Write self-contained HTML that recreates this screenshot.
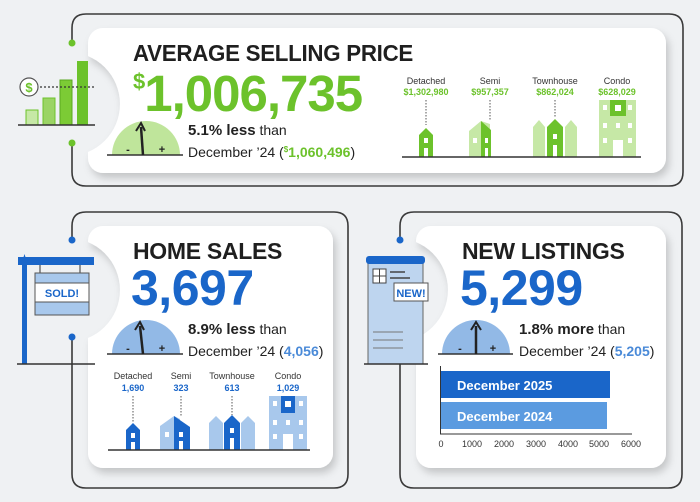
<!DOCTYPE html>
<html><head><meta charset="utf-8"><style>
html,body{margin:0;padding:0;background:#eff1f3;}
svg{display:block;font-family:"Liberation Sans",sans-serif;}
.t{font-weight:bold;fill:#1f1f1f;font-size:23px;letter-spacing:-0.3px}
.s{font-size:14px;fill:#222}
.sm{font-size:9px;fill:#333}
</style></head><body>
<svg width="700" height="502" viewBox="0 0 700 502" xmlns="http://www.w3.org/2000/svg">
<defs>
<filter id="sh" x="-10%" y="-10%" width="130%" height="130%"><feDropShadow dx="3" dy="5" stdDeviation="4" flood-color="#000" flood-opacity="0.18"/></filter>
<mask id="m1"><rect width="700" height="502" fill="#fff"/><circle cx="68" cy="104" r="52" fill="#000"/></mask>
<mask id="m2"><rect width="700" height="502" fill="#fff"/><circle cx="68" cy="290" r="52" fill="#000"/><circle cx="396" cy="290" r="52" fill="#000"/></mask>
</defs>
<rect width="700" height="502" fill="#eff1f3"/>
<path d="M72,43 V28 Q72,14 86,14 H669 Q683,14 683,28 V172 Q683,186 669,186 H86 Q72,186 72,172 V143" fill="none" stroke="#3a3a3a" stroke-width="1.6"/>
<path d="M72,240 V226 Q72,212 86,212 H334 Q348,212 348,226 V474 Q348,488 334,488 H86 Q72,488 72,474 V337" fill="none" stroke="#3a3a3a" stroke-width="1.6"/>
<path d="M400,240 V226 Q400,212 414,212 H668 Q682,212 682,226 V474 Q682,488 668,488 H414 Q400,488 400,474 V337" fill="none" stroke="#3a3a3a" stroke-width="1.6"/>
<g filter="url(#sh)">
<rect x="88" y="28" width="578" height="145" rx="15" fill="#fff" mask="url(#m1)"/>
<rect x="88" y="226" width="245" height="242" rx="15" fill="#fff" mask="url(#m2)"/>
<rect x="416" y="226" width="250" height="242" rx="15" fill="#fff" mask="url(#m2)"/>
</g>
<circle cx="72" cy="43" r="3.5" fill="#6cc22b"/><circle cx="72" cy="143" r="3.5" fill="#6cc22b"/>
<circle cx="72" cy="240" r="3.5" fill="#1a66c9"/><circle cx="72" cy="337" r="3.5" fill="#1a66c9"/>
<circle cx="400" cy="240" r="3.5" fill="#1a66c9"/><circle cx="400" cy="337" r="3.5" fill="#1a66c9"/>

<rect x="26" y="110" width="12" height="15" fill="#c6e8a6" stroke="#6cc22b"/>
<rect x="43" y="98" width="12" height="27" fill="#9bd465" stroke="#6cc22b"/>
<rect x="60" y="80" width="12" height="45" fill="#7ccb35" stroke="#5aa820"/>
<rect x="77" y="61" width="11" height="64" fill="#6cc22b"/>
<line x1="18" y1="125" x2="95" y2="125" stroke="#333" stroke-width="1.5"/>
<line x1="40" y1="87" x2="95" y2="87" stroke="#333" stroke-width="1.3" stroke-dasharray="2,2"/>
<circle cx="29" cy="87" r="9" fill="#fff" stroke="#555" stroke-width="1.2"/>
<text x="29" y="92" font-size="13" font-weight="bold" fill="#6cc22b" text-anchor="middle">$</text>

<text x="133" y="61" class="t" textLength="280" lengthAdjust="spacingAndGlyphs">AVERAGE SELLING PRICE</text>
<text x="133" y="111" font-size="51" font-weight="bold" fill="#6cc22b" letter-spacing="-1"><tspan font-size="22" dy="-22">$</tspan><tspan dy="22">1,006,735</tspan></text>
<path d="M112,155 A34,34 0 0 1 180,155 Z" fill="#bfe59b"/>
<line x1="107" y1="155" x2="183" y2="155" stroke="#333" stroke-width="1.5"/>
<line x1="143" y1="155" x2="141" y2="127" stroke="#222" stroke-width="2.5"/>
<path d="M136,131 L141,123 L145,131" fill="none" stroke="#222" stroke-width="2"/>
<text x="128" y="153" font-size="11" font-weight="bold" fill="#222" text-anchor="middle">-</text>
<text x="162" y="153" font-size="11" font-weight="bold" fill="#222" text-anchor="middle">+</text>
<text x="188" y="135" class="s"><tspan font-weight="bold" font-size="15">5.1% less</tspan> than</text>
<text x="188" y="157" class="s">December ’24 (<tspan fill="#6cc22b" font-weight="bold"><tspan font-size="8" dy="-5">$</tspan><tspan dy="5">1,060,496</tspan></tspan>)</text>
<g text-anchor="middle">
<text x="426" y="84" class="sm">Detached</text><text x="426" y="95" font-size="9" font-weight="bold" fill="#6cc22b">$1,302,980</text>
<text x="490" y="84" class="sm">Semi</text><text x="490" y="95" font-size="9" font-weight="bold" fill="#6cc22b">$957,357</text>
<text x="555" y="84" class="sm">Townhouse</text><text x="555" y="95" font-size="9" font-weight="bold" fill="#6cc22b">$862,024</text>
<text x="617" y="84" class="sm">Condo</text><text x="617" y="95" font-size="9" font-weight="bold" fill="#6cc22b">$628,029</text>
</g>
<g stroke="#555" stroke-dasharray="1.5,1.5"><line x1="426" y1="100" x2="426" y2="125"/><line x1="490" y1="100" x2="490" y2="121"/><line x1="555" y1="100" x2="555" y2="118"/></g>
<path d="M419,157 V135 L426,128 L433,135 V157 Z" fill="#6cc22b"/>
<rect x="424" y="138" width="4" height="5" fill="#fff"/><rect x="424" y="148" width="4" height="9" fill="#fff"/>
<path d="M469,157 V131 L481,121 L490,124 V157 Z" fill="#c6e8a6"/>
<path d="M481,157 V121 L491,130 V157 Z" fill="#6cc22b"/>
<rect x="473" y="138" width="4" height="5" fill="#fff"/><rect x="485" y="138" width="3" height="5" fill="#fff"/><rect x="485" y="148" width="3" height="9" fill="#fff"/>
<path d="M533,157 V127 L539,120 L545,127 V157 Z" fill="#c6e8a6"/>
<path d="M565,157 V127 L571,120 L577,127 V157 Z" fill="#c6e8a6"/>
<path d="M547,157 V127 L555,119 L563,127 V157 Z" fill="#6cc22b"/>
<rect x="553" y="134" width="4" height="5" fill="#fff"/><rect x="553" y="145" width="4" height="12" fill="#fff"/>
<rect x="599" y="100" width="37" height="57" fill="#c6e8a6"/>
<rect x="610" y="100" width="16" height="16" fill="#6cc22b"/><rect x="615" y="105" width="6" height="6" fill="#fff"/>
<g fill="#fff"><rect x="603" y="105" width="4" height="5"/><rect x="628" y="105" width="4" height="5"/>
<rect x="603" y="123" width="4" height="5"/><rect x="616" y="123" width="4" height="5"/><rect x="628" y="123" width="4" height="5"/>
<rect x="603" y="138" width="4" height="5"/><rect x="628" y="138" width="4" height="5"/><rect x="613" y="140" width="10" height="17"/></g>
<line x1="402" y1="157" x2="641" y2="157" stroke="#333" stroke-width="1.5"/>

<rect x="22" y="262" width="5" height="102" fill="#1a66c9"/>
<path d="M22,262 L24.5,254 L27,262Z" fill="#1a66c9"/>
<rect x="18" y="257" width="76" height="8" fill="#1a66c9"/>
<line x1="40" y1="265" x2="40" y2="274" stroke="#333"/><line x1="80" y1="265" x2="80" y2="274" stroke="#333"/>
<rect x="35" y="273" width="54" height="42" fill="#a8c8ec" stroke="#555"/>
<rect x="35" y="283" width="54" height="19" fill="#fff" stroke="#555"/>
<text x="62" y="297" font-size="11" font-weight="bold" fill="#1a66c9" text-anchor="middle">SOLD!</text>
<line x1="17" y1="364" x2="95" y2="364" stroke="#333" stroke-width="1.5"/>

<text x="133" y="259" class="t">HOME SALES</text>
<text x="131" y="305" font-size="50" font-weight="bold" fill="#1a66c9" letter-spacing="-0.5">3,697</text>
<path d="M112,354 A34,34 0 0 1 180,354 Z" fill="#92b9e6"/>
<line x1="107" y1="354" x2="183" y2="354" stroke="#333" stroke-width="1.5"/>
<line x1="143" y1="354" x2="140" y2="326" stroke="#222" stroke-width="2.5"/>
<path d="M135,330 L140,322 L144,330" fill="none" stroke="#222" stroke-width="2"/>
<text x="128" y="352" font-size="11" font-weight="bold" fill="#222" text-anchor="middle">-</text>
<text x="162" y="352" font-size="11" font-weight="bold" fill="#222" text-anchor="middle">+</text>
<text x="188" y="334" class="s"><tspan font-weight="bold" font-size="15">8.9% less</tspan> than</text>
<text x="188" y="356" class="s">December ’24 (<tspan fill="#4a8ad8" font-weight="bold">4,056</tspan>)</text>
<g text-anchor="middle">
<text x="133" y="379" class="sm">Detached</text><text x="133" y="391" font-size="9" font-weight="bold" fill="#1a66c9">1,690</text>
<text x="181" y="379" class="sm">Semi</text><text x="181" y="391" font-size="9" font-weight="bold" fill="#1a66c9">323</text>
<text x="232" y="379" class="sm">Townhouse</text><text x="232" y="391" font-size="9" font-weight="bold" fill="#1a66c9">613</text>
<text x="288" y="379" class="sm">Condo</text><text x="288" y="391" font-size="9" font-weight="bold" fill="#1a66c9">1,029</text>
</g>
<g stroke="#555" stroke-dasharray="1.5,1.5"><line x1="133" y1="396" x2="133" y2="422"/><line x1="181" y1="396" x2="181" y2="416"/><line x1="232" y1="396" x2="232" y2="415"/></g>
<path d="M126,450 V430 L133,423 L140,430 V450 Z" fill="#1a66c9"/>
<rect x="131" y="433" width="4" height="5" fill="#fff"/><rect x="131" y="442" width="4" height="8" fill="#fff"/>
<path d="M160,450 V426 L174,416 L180,419 V450 Z" fill="#a8c8ec"/>
<path d="M174,450 V416 L190,427 V450 Z" fill="#1a66c9"/>
<rect x="165" y="432" width="4" height="5" fill="#fff"/><rect x="179" y="432" width="4" height="5" fill="#fff"/><rect x="179" y="441" width="4" height="9" fill="#fff"/>
<path d="M209,450 V423 L216,416 L223,423 V450 Z" fill="#a8c8ec"/>
<path d="M241,450 V423 L248,416 L255,423 V450 Z" fill="#a8c8ec"/>
<path d="M224,450 V423 L232,415 L240,423 V450 Z" fill="#1a66c9"/>
<rect x="230" y="428" width="4" height="5" fill="#fff"/><rect x="230" y="438" width="4" height="12" fill="#fff"/>
<rect x="269" y="396" width="38" height="54" fill="#a8c8ec"/>
<rect x="281" y="396" width="14" height="17" fill="#1a66c9"/><rect x="285" y="401" width="6" height="6" fill="#fff"/>
<g fill="#fff"><rect x="273" y="401" width="4" height="5"/><rect x="299" y="401" width="4" height="5"/>
<rect x="273" y="420" width="4" height="5"/><rect x="286" y="420" width="4" height="5"/><rect x="299" y="420" width="4" height="5"/>
<rect x="273" y="434" width="4" height="5"/><rect x="299" y="434" width="4" height="5"/><rect x="283" y="434" width="10" height="16"/></g>
<line x1="108" y1="450" x2="310" y2="450" stroke="#333" stroke-width="1.5"/>

<path d="M368,260 H423 V364 H368 Z" fill="#bed5ef" stroke="#666"/>
<rect x="366" y="256" width="59" height="8" rx="3" fill="#1a66c9"/>
<rect x="373" y="269" width="13" height="14" fill="#fff" stroke="#444"/>
<line x1="379.5" y1="269" x2="379.5" y2="283" stroke="#444"/><line x1="373" y1="276" x2="386" y2="276" stroke="#444"/>
<line x1="390" y1="272" x2="405" y2="272" stroke="#444" stroke-width="1.5"/><line x1="390" y1="278" x2="410" y2="278" stroke="#444" stroke-width="1.5"/>
<g stroke="#777"><line x1="373" y1="332" x2="403" y2="332"/><line x1="373" y1="340" x2="403" y2="340"/><line x1="373" y1="348" x2="403" y2="348"/></g>
<rect x="394" y="283" width="34" height="18" fill="#fff" stroke="#555"/>
<text x="411" y="297" font-size="11" font-weight="bold" fill="#1a66c9" text-anchor="middle">NEW!</text>
<line x1="364" y1="364" x2="428" y2="364" stroke="#333" stroke-width="1.5"/>

<text x="462" y="259" class="t">NEW LISTINGS</text>
<text x="460" y="305" font-size="50" font-weight="bold" fill="#1a66c9" letter-spacing="-0.5">5,299</text>
<path d="M442,354 A34,34 0 0 1 510,354 Z" fill="#92b9e6"/>
<line x1="438" y1="354" x2="513" y2="354" stroke="#333" stroke-width="1.5"/>
<line x1="476" y1="354" x2="476" y2="326" stroke="#222" stroke-width="2.5"/>
<path d="M471,330 L476,322 L481,330" fill="none" stroke="#222" stroke-width="2"/>
<text x="460" y="352" font-size="11" font-weight="bold" fill="#222" text-anchor="middle">-</text>
<text x="493" y="352" font-size="11" font-weight="bold" fill="#222" text-anchor="middle">+</text>
<text x="519" y="334" class="s"><tspan font-weight="bold" font-size="15">1.8% more</tspan> than</text>
<text x="519" y="356" class="s">December ’24 (<tspan fill="#4a8ad8" font-weight="bold">5,205</tspan>)</text>
<rect x="441" y="371" width="169" height="27" fill="#1a66c9"/>
<rect x="441" y="402" width="166" height="27" fill="#5b9be0"/>
<text x="457" y="390" font-size="13" font-weight="bold" fill="#fff">December 2025</text>
<text x="457" y="421" font-size="13" font-weight="bold" fill="#fff">December 2024</text>
<line x1="440.5" y1="366" x2="440.5" y2="434" stroke="#333"/>
<line x1="440" y1="434" x2="632" y2="434" stroke="#333"/>
<g font-size="9" fill="#333" text-anchor="middle">
<text x="441" y="447">0</text><text x="472" y="447">1000</text><text x="504" y="447">2000</text><text x="536" y="447">3000</text><text x="568" y="447">4000</text><text x="599" y="447">5000</text><text x="631" y="447">6000</text>
</g>
</svg>
</body></html>
